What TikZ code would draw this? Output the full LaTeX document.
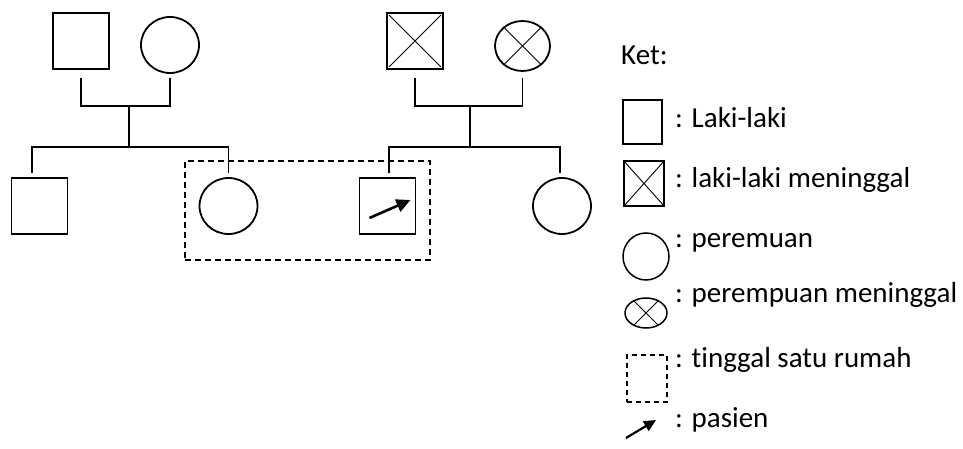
\documentclass[tikz,border=0pt]{standalone}
\usepackage{fontspec}
\setmainfont[Ligatures=NoCommon]{Carlito}
\usetikzlibrary{shapes.geometric,arrows.meta}
\begin{document}
\begin{tikzpicture}[x=1pt,y=-1pt,
  sq/.style={draw,line width=1.8pt,rectangle,minimum width=56pt,minimum height=56pt,inner sep=0},
  ci/.style={draw,line width=1.8pt,ellipse,minimum width=58pt,minimum height=56pt,inner sep=0},
  ln/.style={line width=1.8pt},
  crossln/.style={line width=0.9pt},
  lab/.style={anchor=base west,inner sep=0,font=\fontsize{29}{34}\selectfont},
  house/.style={draw,line width=1.5pt,dash pattern=on 6pt off 4pt,rectangle,inner sep=0},
  patarrow/.style={line width=2.6pt,-{Triangle[length=14pt,width=13pt]}}
]
\useasboundingbox (0,0) rectangle (963,449);

% pedigree, left family
\node[sq] (gf1) at (81,41) {};
\node[ci] (gm1) at (170,45) {};
\coordinate (m1) at (129,106);
\coordinate (s1) at (129,147);
\draw[ln] ([yshift=-8pt]gf1.south) |- (m1) -| ([yshift=-4pt]gm1.south);
\draw[ln] (m1) -- (s1);

% pedigree, right family
\node[sq] (gf2) at (415,41) {};
\draw[crossln] ([shift={(3pt,-3pt)}]gf2.north west) -- ([shift={(-3pt,3pt)}]gf2.south east);
\draw[crossln] ([shift={(-3pt,-3pt)}]gf2.north east) -- ([shift={(3pt,3pt)}]gf2.south west);
\node[ci,minimum width=55pt,minimum height=50pt] (gm2) at (522.5,46) {};
\draw[crossln] (gm2.135) -- (gm2.-45);
\draw[crossln] (gm2.45) -- (gm2.-135);
\coordinate (m2) at (470,106);
\coordinate (s2) at (470,147);
\draw[ln] ([yshift=-8pt]gf2.south) |- (m2) -| ([yshift=-6pt]gm2.south);
\draw[ln] (m2) -- (s2);

% children
\node[sq] (c1) at (39.5,206) {};
\node[ci] (c2) at (228.5,206) {};
\node[sq] (c3) at (387.5,206) {};
\node[ci] (c4) at (562,206) {};
\draw[ln] ([xshift=-7.5pt,yshift=4pt]c1.north) |- (s1) -| ([yshift=4pt]c2.north);
\draw[ln] ([xshift=1.5pt,yshift=4pt]c3.north) |- (s2) -| ([xshift=-2pt,yshift=4pt]c4.north);

% house
\node[house,minimum width=245pt,minimum height=99pt] (home) at (307.5,210.5) {};

% patient arrow
\coordinate (pa1) at ([shift={(-18pt,-12pt)}]c3.center);
\coordinate (pa2) at ([shift={(23pt,6pt)}]c3.center);
\draw[patarrow] (pa1) -- (pa2);

% legend
\node[lab] (ket) at (621,65) {Ket:};
\node[sq,line width=1.5pt,minimum width=39pt,minimum height=44pt] (lsq) at (642.5,122) {};
\node[lab] (t1) at (675,128) {: Laki-laki};
\node[sq,line width=1.5pt,minimum width=40pt,minimum height=45pt] (lxsq) at (644,183.5) {};
\draw[crossln] (lxsq.north west) -- (lxsq.south east);
\draw[crossln] (lxsq.north east) -- (lxsq.south west);
\node[lab] (t2) at (675,188) {: laki-laki meninggal};
\node[ci,line width=1.5pt,minimum width=46pt,minimum height=47pt] (lci) at (646,256.5) {};
\node[lab] (t3) at (675,247) {: peremuan};
\node[ci,line width=1.5pt,minimum width=42pt,minimum height=30pt] (lxci) at (646,313) {};
\draw[crossln] (lxci.135) -- (lxci.-45);
\draw[crossln] (lxci.45) -- (lxci.-135);
\node[lab] (t4) at (675,302) {: perempuan meninggal};
\node[house,line width=1.1pt,dash pattern=on 5pt off 4pt,minimum width=40pt,minimum height=47pt] (lhouse) at (647,378.5) {};
\node[lab] (t5) at (675,367) {: tinggal satu rumah};
\coordinate (la1) at (626,438);
\coordinate (la2) at (656,420);
\draw[line width=2.2pt,-{Triangle[length=12pt,width=11pt]}] (la1) -- (la2);
\node[lab] (t6) at (675,427) {: pasien};
\end{tikzpicture}
\end{document}
